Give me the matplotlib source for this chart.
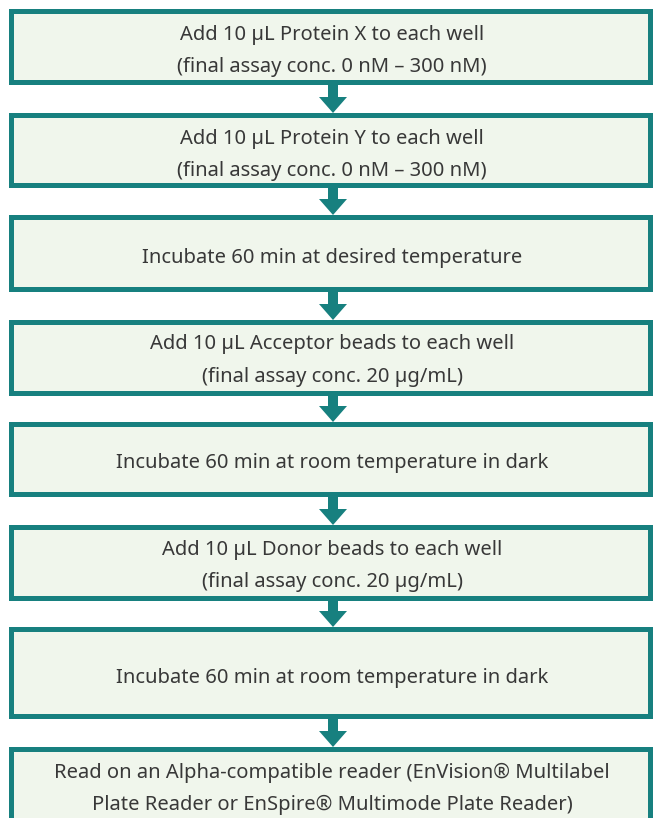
import matplotlib.pyplot as plt
from matplotlib.patches import Rectangle, Polygon

plt.rcParams['font.family'] = ['Noto Sans', 'DejaVu Sans']

# flowchart steps, one entry per box (lines of text)
steps = [
    ["Add 10 µL Protein X to each well", "(final assay conc. 0 nM – 300 nM)"],
    ["Add 10 µL Protein Y to each well", "(final assay conc. 0 nM – 300 nM)"],
    ["Incubate 60 min at desired temperature"],
    ["Add 10 µL Acceptor beads to each well", "(final assay conc. 20 µg/mL)"],
    ["Incubate 60 min at room temperature in dark"],
    ["Add 10 µL Donor beads to each well", "(final assay conc. 20 µg/mL)"],
    ["Incubate 60 min at room temperature in dark"],
    ["Read on an Alpha-compatible reader (EnVision® Multilabel",
     "Plate Reader or EnSpire® Multimode Plate Reader)"],
]
# box extents in pixels (top, bottom)
box_top = [9, 113, 215, 320, 422, 525, 627, 747]
box_bot = [85, 188, 292, 396, 497, 601, 719, 830]
# text line centres for each box
text_y = [[35, 67], [139, 171], [258], [344, 377], [463], [550, 582], [678], [773, 805]]

W, H = 654, 818
teal = '#17807f'
fill = '#f0f6ec'
border = 5
x0, x1 = 9, 653
cx = 333

fig = plt.figure(figsize=(W / 100, H / 100), dpi=100)
ax = fig.add_axes([0, 0, 1, 1])
ax.set_xlim(0, W)
ax.set_ylim(H, 0)
ax.axis('off')

for i, lines in enumerate(steps):
    t, b = box_top[i], box_bot[i]
    ax.add_patch(Rectangle((x0, t), x1 - x0, b - t, facecolor=teal, edgecolor='none'))
    ax.add_patch(Rectangle((x0 + border, t + border), x1 - x0 - 2 * border, b - t - 2 * border,
                           facecolor=fill, edgecolor='none'))
    for line, y in zip(lines, text_y[i]):
        ax.text(cx - 1, y, line, ha='center', va='center', fontsize=14.5, color='#383838')
    if i < len(steps) - 1:
        s, e = b, box_top[i + 1]
        head = 16
        pts = [(cx - 5, s), (cx + 5, s), (cx + 5, e - head), (cx + 14, e - head),
               (cx, e), (cx - 14, e - head), (cx - 5, e - head)]
        ax.add_patch(Polygon(pts, closed=True, facecolor=teal, edgecolor='none'))

fig.savefig('out.png', dpi=100, facecolor='white')
